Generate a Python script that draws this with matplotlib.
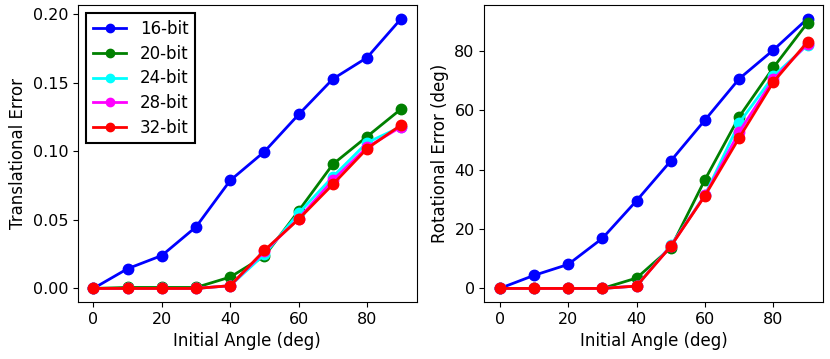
import numpy as np
import matplotlib.pyplot as plt

angles = [0, 10, 20, 30, 40, 50, 60, 70, 80, 90]
labels = ['16-bit', '20-bit', '24-bit', '28-bit', '32-bit']
colors = ['blue', 'green', 'cyan', 'magenta', 'red']

trans_err = [
    [0.0, 0.0144, 0.024, 0.0449, 0.0788, 0.0998, 0.1269, 0.1528, 0.1684, 0.1969],
    [0.0, 0.0007, 0.0007, 0.0007, 0.0083, 0.0236, 0.0566, 0.0906, 0.1108, 0.131],
    [0.0, 0.0, 0.0, 0.0, 0.002, 0.0249, 0.0549, 0.0815, 0.1064, 0.118],
    [0.0, 0.0, 0.0, 0.0, 0.002, 0.027, 0.051, 0.079, 0.103, 0.118],
    [0.0, 0.0, 0.0, 0.0, 0.002, 0.0278, 0.0505, 0.0759, 0.102, 0.1193],
]
rot_err = [
    [0.0, 4.4, 8.1, 16.9, 29.6, 43.0, 56.8, 70.7, 80.4, 91.0],
    [0.0, 0.0, 0.0, 0.0, 3.5, 13.7, 36.7, 57.9, 74.5, 89.6],
    [0.0, 0.0, 0.0, 0.0, 0.8, 14.5, 31.5, 55.8, 71.6, 82.1],
    [0.0, 0.0, 0.0, 0.0, 0.8, 14.3, 31.4, 52.8, 70.5, 82.5],
    [0.0, 0.0, 0.0, 0.0, 0.8, 14.2, 31.3, 50.8, 69.6, 83.2],
]

fig, (ax1, ax2) = plt.subplots(1, 2, figsize=(8.3, 3.59), dpi=100)

for i in range(len(labels)):
    ax1.plot(angles, trans_err[i], 'o-', c=colors[i], lw=2, ms=7.5, label=labels[i])
    ax2.plot(angles, rot_err[i], 'o-', c=colors[i], lw=2, ms=7.5, label=labels[i])

ax1.set_xlabel('Initial Angle (deg)', fontsize=12)
ax1.set_ylabel('Translational Error', fontsize=12)
ax2.set_xlabel('Initial Angle (deg)', fontsize=12)
ax2.set_ylabel('Rotational Error (deg)', fontsize=12)
ax1.set_yticks([0.0, 0.05, 0.10, 0.15, 0.20])
for ax in (ax1, ax2):
    ax.tick_params(labelsize=11.5)
    ax.set_xticks([0, 20, 40, 60, 80])

leg = ax1.legend(fontsize=12, fancybox=False, edgecolor='black', framealpha=1,
                 markerscale=0.8, labelspacing=0.4)
leg.get_frame().set_linewidth(1.5)

plt.subplots_adjust(left=0.094, right=0.9916, top=0.986, bottom=0.159, wspace=0.2)
plt.savefig('out.png')
